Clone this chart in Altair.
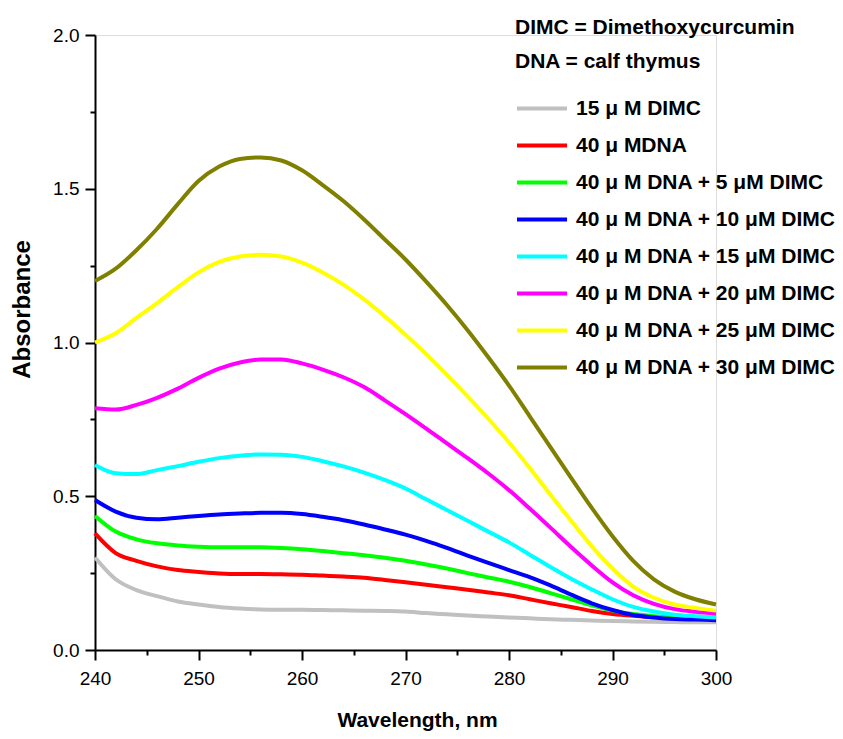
import altair as alt
import pandas as pd

wavelength = [240, 242, 244, 246, 248, 250, 252, 254, 256, 258, 260, 262, 264, 266, 268, 270,
              272, 274, 276, 278, 280, 282, 284, 286, 288, 290, 292, 294, 296, 298, 300]

dimc15 = [0.301, 0.230, 0.195, 0.175, 0.158, 0.148, 0.140, 0.135, 0.132, 0.131, 0.131, 0.130,
          0.129, 0.128, 0.127, 0.125, 0.120, 0.116, 0.112, 0.109, 0.106, 0.103, 0.100, 0.098,
          0.096, 0.094, 0.093, 0.092, 0.091, 0.090, 0.090]
dna40 = [0.379, 0.315, 0.290, 0.272, 0.260, 0.254, 0.249, 0.247, 0.247, 0.246, 0.245, 0.242,
         0.239, 0.235, 0.228, 0.220, 0.212, 0.204, 0.196, 0.187, 0.178, 0.165, 0.152, 0.140,
         0.127, 0.117, 0.111, 0.107, 0.105, 0.103, 0.102]
dna_dimc5 = [0.436, 0.385, 0.360, 0.347, 0.340, 0.336, 0.334, 0.334, 0.334, 0.332, 0.328, 0.322,
             0.315, 0.308, 0.300, 0.290, 0.278, 0.265, 0.250, 0.236, 0.222, 0.205, 0.185, 0.165,
             0.145, 0.128, 0.117, 0.110, 0.106, 0.104, 0.102]
dna_dimc10 = [0.488, 0.450, 0.430, 0.425, 0.430, 0.436, 0.441, 0.444, 0.446, 0.446, 0.442, 0.433,
              0.422, 0.408, 0.392, 0.375, 0.355, 0.332, 0.307, 0.283, 0.260, 0.237, 0.210, 0.180,
              0.152, 0.130, 0.114, 0.106, 0.101, 0.099, 0.097]
dna_dimc15 = [0.602, 0.575, 0.572, 0.585, 0.598, 0.612, 0.624, 0.632, 0.636, 0.635, 0.628, 0.614,
              0.597, 0.577, 0.553, 0.525, 0.490, 0.455, 0.420, 0.385, 0.350, 0.310, 0.270, 0.232,
              0.197, 0.165, 0.140, 0.125, 0.115, 0.110, 0.106]
dna_dimc20 = [0.786, 0.782, 0.797, 0.820, 0.850, 0.885, 0.915, 0.935, 0.945, 0.945, 0.932, 0.912,
              0.887, 0.855, 0.812, 0.767, 0.720, 0.672, 0.624, 0.574, 0.520, 0.460, 0.398, 0.335,
              0.275, 0.220, 0.178, 0.150, 0.133, 0.124, 0.118]
dna_dimc25 = [1.000, 1.030, 1.080, 1.128, 1.180, 1.228, 1.262, 1.280, 1.285, 1.280, 1.260, 1.228,
              1.188, 1.140, 1.085, 1.025, 0.962, 0.895, 0.825, 0.752, 0.675, 0.592, 0.505, 0.420,
              0.337, 0.265, 0.206, 0.170, 0.148, 0.137, 0.128]
dna_dimc30 = [1.200, 1.240, 1.300, 1.370, 1.450, 1.525, 1.572, 1.597, 1.602, 1.592, 1.560, 1.512,
              1.460, 1.400, 1.335, 1.270, 1.198, 1.122, 1.040, 0.952, 0.860, 0.760, 0.660, 0.560,
              0.462, 0.370, 0.290, 0.230, 0.190, 0.165, 0.148]

series_labels = [
    "15 \u03bc M DIMC",
    "40 \u03bc MDNA",
    "40 \u03bc M DNA + 5 \u03bcM DIMC",
    "40 \u03bc M DNA + 10 \u03bcM DIMC",
    "40 \u03bc M DNA + 15 \u03bcM DIMC",
    "40 \u03bc M DNA + 20 \u03bcM DIMC",
    "40 \u03bc M DNA + 25 \u03bcM DIMC",
    "40 \u03bc M DNA + 30 \u03bcM DIMC",
]
series_values = [dimc15, dna40, dna_dimc5, dna_dimc10, dna_dimc15, dna_dimc20, dna_dimc25, dna_dimc30]
series_colors = ["#c0c0c0", "#ff0000", "#00ff00", "#0000ff", "#00ffff", "#ff00ff", "#ffff00", "#808000"]

x_ticks = list(range(240, 301, 5))
y_ticks = [i * 0.25 for i in range(9)]

rows = []
for order, (lab, vals) in enumerate(zip(series_labels, series_values)):
    for w, a in zip(wavelength, vals):
        rows.append({"wl": w, "abs": a, "series": lab, "order": order})
df = pd.DataFrame(rows)

FONT = "Liberation Sans, Arial"

chart = alt.Chart(df).mark_line(strokeWidth=4, interpolate="monotone").encode(
    x=alt.X("wl:Q", scale=alt.Scale(domain=[240, 300], nice=False, zero=False),
            axis=alt.Axis(
                title="Wavelength, nm", values=x_ticks, grid=False,
                labelExpr="datum.value % 10 === 0 ? datum.label : ''",
                tickSize={"condition": {"test": "datum.value % 10 === 0", "value": 10}, "value": 5},
                tickWidth=2, tickColor="black", domainColor="black", domainWidth=2,
                labelFont=FONT, labelFontSize=19, labelColor="black", labelPadding=9,
                labelOverlap=False, labelFlush=False,
                titleFont=FONT, titleFontSize=21, titleFontWeight="bold", titleColor="black",
                titleX=322, titleY=70, titleBaseline="middle")),
    y=alt.Y("abs:Q", scale=alt.Scale(domain=[0, 2], nice=False),
            axis=alt.Axis(
                title="Absorbance", values=y_ticks, grid=False, format=".1f",
                labelExpr="datum.value % 0.5 === 0 ? datum.label : ''",
                tickSize={"condition": {"test": "datum.value % 0.5 === 0", "value": 10}, "value": 5},
                tickWidth=2, tickColor="black", domainColor="black", domainWidth=2,
                labelFont=FONT, labelFontSize=19, labelColor="black", labelPadding=6,
                labelOverlap=False, labelFlush=False,
                titleFont=FONT, titleFontSize=24, titleFontWeight="bold",
                titleColor="black", titleX=-73, titleY=274, titleBaseline="middle")),
    color=alt.Color("series:N", sort=series_labels,
                    scale=alt.Scale(domain=series_labels, range=series_colors),
                    legend=alt.Legend(
                        orient="none", legendX=420, legendY=-18,
                        title=["DIMC = Dimethoxycurcumin", "DNA = calf thymus"],
                        titleFont=FONT, titleFontSize=21, titleFontWeight="bold",
                        titleColor="black", titleLineHeight=33.5, titlePadding=10,
                        titleLimit=400, labelLimit=400,
                        symbolType="stroke", symbolSize=2500, symbolStrokeWidth=4,
                        labelFont=FONT, labelFontSize=21, labelFontWeight="bold",
                        labelColor="black", labelOffset=7, rowPadding=-18.5, padding=0)),
    order="order:Q",
).properties(
    width=621, height=615,
    padding={"left": 87, "top": 27, "right": 119, "bottom": 81},
    autosize=alt.AutoSizeParams(type="none"),
).configure_view(stroke=None).configure(background="white")

chart.save("out.html", embed_options={"renderer": "svg", "actions": False})
